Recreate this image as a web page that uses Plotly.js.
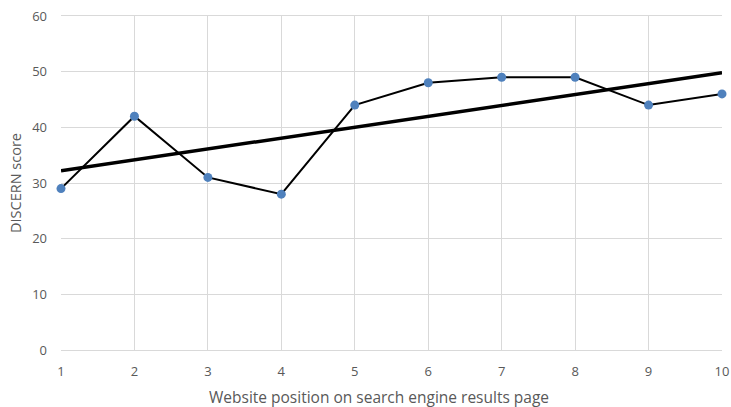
<!DOCTYPE html>
<html>
<head>
<meta charset="utf-8">
<script src="https://cdn.plot.ly/plotly-3.0.1.min.js"></script>
<style>html,body{margin:0;padding:0;background:#fff;}#chart{width:731px;height:407px;}</style>
</head>
<body>
<div id="chart"></div>
<script>
const positions = [1, 2, 3, 4, 5, 6, 7, 8, 9, 10];
const discernScores = [29, 42, 31, 28, 44, 48, 49, 49, 44, 46];
const trendX = [1, 10];
const trendY = [32.2, 49.8];
const yTicks = [0, 10, 20, 30, 40, 50, 60];
const xTitle = 'Website position on search engine results page';
const yTitle = 'DISCERN score';

const font = "Open Sans, Liberation Sans, sans-serif";
const data = [
  {
    x: positions, y: discernScores, type: 'scatter', mode: 'lines+markers',
    line: {color: '#000000', width: 2},
    marker: {color: '#4F81BD', size: 9},
    cliponaxis: false,
    showlegend: false, hoverinfo: 'x+y'
  },
  {
    x: trendX, y: trendY, type: 'scatter', mode: 'lines',
    line: {color: '#000000', width: 3.5},
    cliponaxis: false,
    showlegend: false, hoverinfo: 'skip'
  }
];
const layout = {
  width: 731, height: 407,
  margin: {l: 61, r: 9, t: 16, b: 57},
  paper_bgcolor: '#ffffff', plot_bgcolor: '#ffffff',
  font: {family: font, color: '#595959', size: 12},
  xaxis: {
    range: [1, 10], tickvals: positions, ticktext: positions.map(String),
    showgrid: true, gridcolor: '#d9d9d9', gridwidth: 1,
    zeroline: false, showline: true, linecolor: '#d9d9d9', linewidth: 1, mirror: true,
    ticks: '', ticklabelstandoff: 9,
    tickfont: {family: font, size: 13, color: '#595959'}
  },
  yaxis: {
    range: [0, 60], tickvals: yTicks,
    showgrid: true, gridcolor: '#d9d9d9', gridwidth: 1,
    zeroline: false, showline: false,
    ticks: '', ticklabelstandoff: 13,
    tickfont: {family: font, size: 13, color: '#595959'},
    title: {text: yTitle, font: {family: font, size: 14.5, color: '#595959'}, standoff: 7}
  },
  annotations: [{
    text: xTitle, xref: 'paper', yref: 'paper', x: 0.481, y: -0.141,
    xanchor: 'center', yanchor: 'middle', showarrow: false,
    font: {family: font, size: 15.5, color: '#595959'}
  }]
};
Plotly.newPlot('chart', data, layout, {displayModeBar: false, staticPlot: true});
</script>
</body>
</html>
